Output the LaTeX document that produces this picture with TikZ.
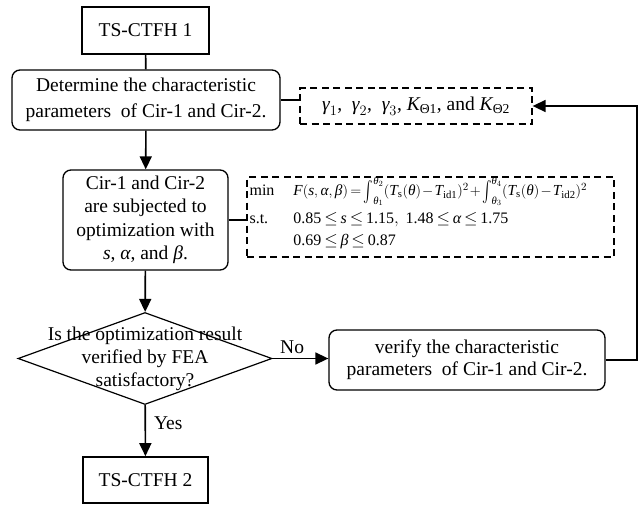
\documentclass[tikz,border=0pt]{standalone}
\usepackage{amsmath}
\usepackage{graphicx}
\usepackage{fontspec}
\setmainfont{Liberation Serif}
\usetikzlibrary{arrows.meta,shapes.geometric}
% italic variables and upright numbers in the serif text face
\newcommand{\mv}[1]{\textit{#1}}
\newcommand{\nv}[1]{\text{#1}}
% a slightly taller integral sign with limits at its side
\newcommand{\tint}{\mathop{\vcenter{\hbox{\scalebox{1}[1.45]{$\int$}}}}\nolimits}

\begin{document}
\begin{tikzpicture}[x=1pt,y=-1pt,
  every node/.style={inner sep=0pt, text=black,
    font=\fontsize{19.5}{23.5}\selectfont},
  flatbox/.style={draw, line width=1.6pt},
  softbox/.style={draw, rounded corners=8pt, line width=1.3pt, align=center},
  hintbox/.style={draw, dash pattern=on 7pt off 4.5pt, line width=1.3pt},
  link/.style={line width=1.6pt},
  arr/.style={link, -{Triangle[length=13pt,width=12pt]}},
  tag/.style={font=\fontsize{19.5}{23.5}\selectfont}
]
\useasboundingbox (0,0) rectangle (640,506);

% main column
\node[flatbox, minimum width=127pt, minimum height=47pt] (ts1) at (145.5,30.5) {TS-CTFH 1};
\node[softbox, minimum width=268pt, minimum height=60pt,
      font=\fontsize{19.5}{26}\selectfont] (det) at (146,100)
  {Determine the characteristic\\parameters\ \ of Cir-1 and Cir-2.};
\node[softbox, minimum width=165pt, minimum height=100pt] (cir) at (145.5,220)
  {Cir-1 and Cir-2\\are subjected to\\optimization with\\\mv{s}, \mv{α}, and \mv{β}.};
\node[draw, diamond, line width=1.2pt, minimum width=254pt, minimum height=92pt] (dec) at (145,358.5) {};
\node[align=center, font=\fontsize{19.5}{23}\selectfont] (dectext) at (145,358.5)
  {Is the optimization result\\verified by FEA\\satisfactory?};
\node[flatbox, minimum width=125pt, minimum height=46pt] (ts2) at (145.5,480) {TS-CTFH 2};

% side boxes
\node[hintbox, minimum width=232pt, minimum height=36pt] (gam) at (416,106)
  {$\mv{γ}_{1}$,\ \ $\mv{γ}_{2}$,\ \ $\mv{γ}_{3}$, $\mv{K}_{\text{Θ1}}$, and $\mv{K}_{\text{Θ2}}$};
\node[hintbox, minimum width=367pt, minimum height=80pt] (frm) at (430.5,217) {};
\node[anchor=west, align=left, font=\fontsize{16}{20}\selectfont]
  (frmtext) at ([xshift=3pt,yshift=2.5pt]frm.west)
  {\thickmuskip=3mu\medmuskip=1.5mu
   \begin{tabular}{@{}l@{\hspace{19pt}}l@{}}
    min & \fontsize{15.3}{20}\selectfont
          $\mv{F}(\mv{s},\mv{α},\mv{β})=\tint_{\mv{θ}_1}^{\mv{θ}_2}(\mv{T}_{\text{s}}(\mv{θ})-\mv{T}_{\text{id1}})^2+\tint_{\mv{θ}_3}^{\mv{θ}_4}(\mv{T}_{\text{s}}(\mv{θ})-\mv{T}_{\text{id2}})^2$\\[8pt]
    s.t. & $\nv{0.85}\le \mv{s}\le \nv{1.15},\ \nv{1.48}\le \mv{α}\le \nv{1.75}$\\[2pt]
         & $\nv{0.69}\le \mv{β}\le \nv{0.87}$
  \end{tabular}};
\node[softbox, minimum width=276pt, minimum height=60pt,
      font=\fontsize{19.5}{22}\selectfont] (ver) at (467,360)
  {verify the characteristic\\parameters\ \ of Cir-1 and Cir-2.};

\coordinate (back) at (637,0);

% connectors
\draw[link] (ts1) -- (det);
\draw[link] (det.east) -- (gam.west |- det.east);
\draw[arr] (det) -- (cir);
\draw[link] (cir.east) -- (frm.west |- cir.east);
\draw[arr] (cir) -- (dec);
\draw[arr] (dec) -- node[tag, right=8pt, pos=0.35] {Yes} (ts2);
\draw[arr] (dec.east) -- node[tag, above=4pt, pos=0.35] {No} (ver.west |- dec.east);
\draw[arr] (ver.east) -- (ver.east -| back) -- (gam.east -| back) -- (gam.east);
\end{tikzpicture}
\end{document}
